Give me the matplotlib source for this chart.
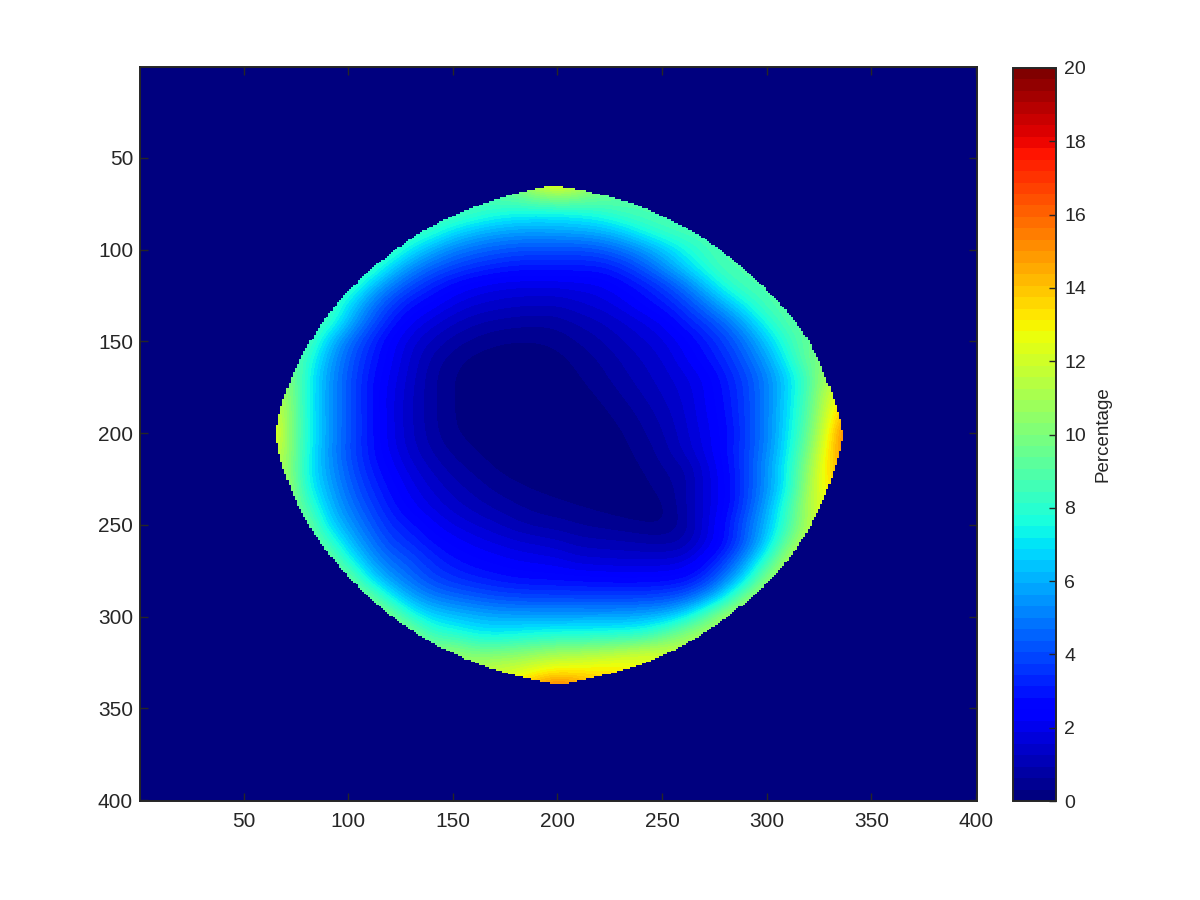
import numpy as np
import matplotlib
matplotlib.use('Agg')
import matplotlib.pyplot as plt
from matplotlib.path import Path

plt.rcParams['font.family'] = ['Liberation Sans', 'DejaVu Sans']

# percentage, one row per y, columns x = 60, 70, ... 340
grid_x = list(range(60, 350, 10))
grid_y = list(range(60, 350, 10))
percentage = [
    [9,9,9,9,9,9,9,9,9,9,9.2,9.5,10.5,13,14.5,13,10.5,9.5,9,9,9,9,9,9,9,9,9,9,9],
    [8.9,8.9,8.9,8.9,8.9,8.9,8.9,8.9,8.9,8.9,8.9,9.2,9.6,10.5,11,10.5,9.8,9.4,9,8.9,8.9,8.9,8.9,8.9,8.9,8.9,8.9,8.9,8.9],
    [8.9,8.9,8.9,8.9,8.9,8.9,8.9,8.9,8.9,9,8.5,8,7.7,7.5,7.5,7.7,8,8.6,8.9,9,8.9,8.9,8.9,8.9,8.9,8.9,8.9,8.9,8.9],
    [8.9,8.9,8.9,8.9,8.9,8.9,8.9,8.9,8.2,7.1,6.4,6,5.8,5.8,5.9,6,6.2,6.7,7.6,8.4,8.8,8.9,8.9,8.9,8.9,8.9,8.9,8.9,8.9],
    [8.8,8.8,8.8,8.8,8.8,8.8,8.8,7.2,6,5.2,4.7,4.4,4.2,4.1,4.1,4.1,4.3,4.8,5.5,6.4,7.5,8.4,8.9,8.9,8.9,8.9,8.9,8.9,8.9],
    [8.8,8.8,8.8,8.8,8.8,8.8,6.8,5.4,4.5,3.9,3.5,3.2,3,3,3,3,3,3.4,4.2,5.3,6.5,7.8,8.8,8.9,8.9,8.9,8.9,8.9,8.9],
    [8.8,8.8,8.8,8.8,8.8,6.6,5.1,4,3.2,2.6,2.2,2,1.9,1.9,1.9,2,2.1,2.5,3,3.7,4.8,6.2,7.8,8.8,8.9,8.9,8.9,8.9,8.9],
    [9,9,9,9,7,5.2,3.8,2.9,2.4,1.9,1.6,1.45,1.35,1.3,1.3,1.5,1.7,2,2.5,3,3.7,4.8,6.1,7.5,8.8,9.2,9.2,9.2,9.2],
    [9.1,9.1,9.1,8.4,6.2,4.4,3.1,2.2,1.7,1.3,1,.85,.75,.7,.75,1,1.2,1.5,1.8,2.2,3,3.7,4.6,6,7.7,9,9.5,9.5,9.5],
    [9.2,9.2,9.2,6.6,4.8,3.5,2.4,1.7,1.2,.8,.55,.35,.3,.3,.4,.65,.9,1.2,1.5,1.8,2.3,3,3.8,4.9,6.5,8.2,9.5,9.8,9.8],
    [10,10,8.2,6,4.4,3.2,2.3,1.5,.85,.45,.2,.15,.12,.15,.2,.4,.65,.95,1.25,1.55,2.1,2.7,3.4,4.4,5.7,7.6,9.6,10.5,10.5],
    [10.8,10.8,7.8,5.7,4.2,3,2.1,1.4,.7,.3,.12,.1,.1,.12,.15,.27,.5,.8,1.1,1.4,1.75,2.2,3,3.9,5.1,6.7,8.7,11.4,11.8],
    [11.5,11,7.7,5.7,4.2,2.9,2,1.3,.7,.3,.12,.1,.1,.1,.12,.18,.32,.6,.9,1.25,1.6,2.15,2.85,3.8,5.1,6.8,8.9,12,13.5],
    [12.5,11.2,7.7,5.7,4.2,3,2,1.3,.7,.3,.15,.1,.1,.1,.1,.12,.2,.4,.7,1.05,1.5,2.1,2.75,3.8,5.1,6.9,9.1,12.5,15],
    [14.5,10.8,7.9,5.7,4.2,3,2,1.3,.75,.33,.2,.12,.1,.1,.1,.1,.15,.25,.55,.9,1.4,2,2.6,3.7,5.1,7,9.5,13,16.5],
    [12.5,11.2,7.7,5.6,4.1,3,2.1,1.4,.9,.55,.3,.17,.12,.1,.1,.1,.12,.2,.4,.75,1.3,1.9,2.7,3.8,5.2,7.2,10,13.5,16],
    [11.5,11,7.5,5.7,4.3,3.2,2.4,1.7,1.2,.8,.55,.3,.15,.12,.1,.1,.1,.14,.28,.6,.8,1.6,2.5,3.8,5.5,7.5,10.6,13.8,15],
    [11.5,11.5,7.7,6,4.6,3.5,2.7,2,1.5,1.1,.8,.55,.38,.25,.18,.1,.1,.1,.15,.45,.75,1.6,2.4,3.8,5.4,7.4,11,13.5,13.5],
    [10.8,10.8,8.7,6.4,5,3.9,3,2.3,1.8,1.4,1.1,.85,.65,.5,.4,.3,.22,.15,.12,.2,.8,1.6,2.4,3.9,5.8,8.3,11.3,13,13],
    [10,10,10,7,5.6,4.4,3.4,2.9,2.3,1.85,1.55,1.3,1,.8,.75,.6,.5,.4,.3,.22,.65,1.6,2.8,4.4,6.2,8.4,11.3,12.5,12.5],
    [10,10,10,8.6,6.4,5,3.9,3.4,2.8,2.4,2.1,1.85,1.65,1.5,1.35,1.1,1.05,1,.9,.85,.9,1.7,2.7,4.4,6.5,9.6,11.8,12,12],
    [10,10,10,10,7.8,5.8,4.7,4.1,3.4,2.9,2.6,2.4,2.2,2.1,2,1.7,1.65,1.6,1.6,1.6,1.75,2.5,3.8,5.6,8.2,11.3,12,12,12],
    [10,10,10,10,10,7.1,5.6,4.7,3.9,3.5,3.2,3,2.8,2.75,2.7,2.65,2.6,2.55,2.55,2.6,2.75,3.5,5,7,10.5,11.5,11.5,11.5,11.5],
    [10,10,10,10,10,10,7.4,5.9,5.1,4.7,4.4,4.1,4,3.9,3.9,3.9,3.85,3.85,3.9,4,4.4,5.3,7.2,10.3,11.2,11.2,11.2,11.2,11.2],
    [10.3,10.3,10.3,10.3,10.3,10.3,10.3,7.8,6.8,6.4,6.1,5.9,5.8,5.8,5.8,5.8,5.8,5.8,6,6.2,7,8.9,11.1,11.5,11.5,11.5,11.5,11.5,11.5],
    [10.5,10.5,10.5,10.5,10.5,10.5,10.5,10.5,8.3,8,7.4,7.2,7.4,7.6,7.7,7.7,7.8,7.9,8,9,10.3,11.2,11.2,11.2,11.2,11.2,11.2,11.2,11.2],
    [10.5,10.5,10.5,10.5,10.5,10.5,10.5,10.5,10.5,10.8,10,10,10.2,10.5,10.9,11,11.2,11.5,12,12,11.8,11.5,11.5,11.5,11.5,11.5,11.5,11.5,11.5],
    [11,11,11,11,11,11,11,11,11,11,11.5,12,12.2,12.8,13.2,13.2,13.5,13.5,13,12.5,12,11.5,11.5,11.5,11.5,11.5,11.5,11.5,11.5],
    [11.5,11.5,11.5,11.5,11.5,11.5,11.5,11.5,11.5,11.5,11.5,12,13.5,15.5,16.5,15.5,14,13,12.5,12,11.5,11.5,11.5,11.5,11.5,11.5,11.5,11.5,11.5],
]

# outline of the non-zero region, clockwise from the top
edge_x = [201, 223.5, 239.5, 253, 268, 282.5, 298.4, 311, 322, 328.7, 333.4, 336.5,
          336, 333.4, 328.7, 322, 311, 298.4, 284, 268, 253.8, 234.7, 214, 205,
          196.5, 174, 151.8, 131, 110.4, 92.9, 80.2, 73.8, 69, 65.5,
          65.5, 69.3, 73.8, 79.4, 90.5, 104.8, 122.4, 134.3, 153.4, 171, 191.7]
edge_y = [65, 70.5, 76, 83.3, 92, 104, 120, 134.5, 152.6, 171, 185, 200,
          205, 216, 232.4, 248.7, 269, 284, 298, 310.7, 319.6, 328.7, 333.7, 336.5,
          336.5, 330.6, 321.6, 308.7, 290.6, 269.8, 249, 234.4, 219.8, 205.3,
          196, 180, 167, 154.5, 134.5, 116.3, 100, 90.5, 79.6, 72.3, 66]

xticks = [50, 100, 150, 200, 250, 300, 350, 400]
yticks = [50, 100, 150, 200, 250, 300, 350, 400]
cbar_ticks = [0, 2, 4, 6, 8, 10, 12, 14, 16, 18, 20]

text_color = '#262626'
jet64 = plt.get_cmap('jet', 64)

fig = plt.figure(figsize=(12, 9), dpi=100)
ax = fig.add_axes([140/1200, 1 - 801/900, 837/1200, 734/900])
ax.set_facecolor(jet64(0))

# half a grid step on each side so the rows and columns land on their own y and x
im = ax.imshow(percentage, cmap=jet64, vmin=0, vmax=20, interpolation='bicubic',
               extent=(grid_x[0] - 5, grid_x[-1] + 5, grid_y[-1] + 5, grid_y[0] - 5),
               aspect='auto')

# rounded outline through the edge points, then blank everything outside it
# one image pixel at a time so the edge keeps its staircase
pts = list(zip(edge_x, edge_y))
verts = [((pts[-1][0] + pts[0][0]) / 2, (pts[-1][1] + pts[0][1]) / 2)]
codes = [Path.MOVETO]
for i, p in enumerate(pts):
    q = pts[(i + 1) % len(pts)]
    verts += [p, ((p[0] + q[0]) / 2, (p[1] + q[1]) / 2)]
    codes += [Path.CURVE3, Path.CURVE3]
outline = Path(verts, codes)

px, py = np.meshgrid(np.arange(1, 401), np.arange(1, 401))
inside = outline.contains_points(np.column_stack([px.ravel(), py.ravel()])).reshape(px.shape)
blank = np.zeros((400, 400, 4))
blank[~inside] = jet64(0)
ax.imshow(blank, extent=(0.5, 400.5, 400.5, 0.5), interpolation='nearest', aspect='auto')

ax.set_xlim(0.5, 400.5)
ax.set_ylim(400.5, 0.5)
ax.set_xticks(xticks)
ax.set_yticks(yticks)
ax.tick_params(direction='in', length=6, width=1, top=True, right=True,
               colors=text_color, labelsize=15)
ax.tick_params(axis='x', pad=8)
ax.tick_params(axis='y', pad=5)
for spine in ax.spines.values():
    spine.set_linewidth(1.4)
    spine.set_color(text_color)

cax = fig.add_axes([1013/1200, 1 - 801/900, 43/1200, 733/900])
cbar = fig.colorbar(im, cax=cax, ticks=cbar_ticks)
cbar.ax.tick_params(direction='in', length=5, width=1, colors=text_color,
                    labelsize=14, pad=6)
cbar.outline.set_linewidth(1.4)
cbar.outline.set_edgecolor(text_color)
cbar.set_label('Percentage', fontsize=13.5, color=text_color, labelpad=6)

plt.savefig('out.png', dpi=100)
